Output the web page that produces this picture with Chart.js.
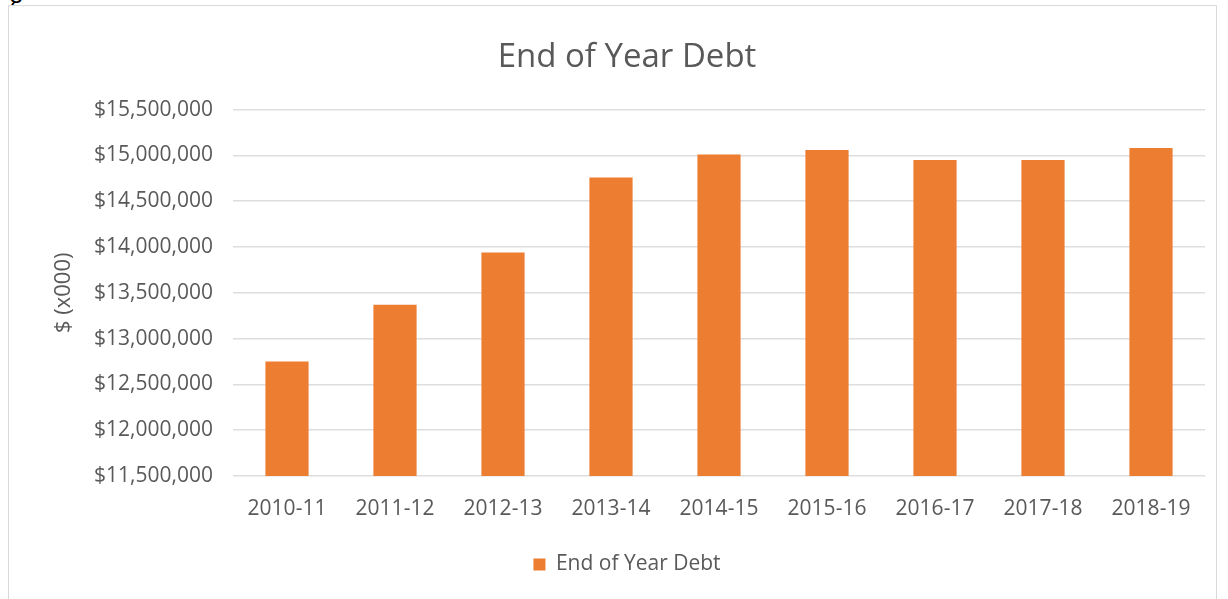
<!DOCTYPE html>
<html>
<head>
<meta charset="utf-8">
<script src="https://cdn.jsdelivr.net/npm/chart.js@4/dist/chart.umd.min.js"></script>
<style>
  html, body { margin: 0; padding: 0; background: #fff; overflow: hidden; }
  body { width: 1228px; height: 599px; position: relative; }
  #frame {
    position: absolute; left: 8px; top: 5px; width: 1209px; height: 600px;
    border: 1px solid #d9d9d9; box-sizing: border-box; background: #fff;
  }
  #cut {
    position: absolute; left: 9px; top: -22px; font: 28px "Open Sans", sans-serif; color: #000;
  }
  #wrap { position: absolute; left: 9px; top: 6px; width: 1208px; height: 593px; }
</style>
</head>
<body>
<div id="cut">g</div>
<div id="frame"></div>
<div id="wrap"><canvas id="myChart"></canvas></div>
<script>
// data
var years = ["2010-11", "2011-12", "2012-13", "2013-14", "2014-15", "2015-16", "2016-17", "2017-18", "2018-19"];
var debt = [12750000, 13370000, 13940000, 14760000, 15010000, 15060000, 14950000, 14950000, 15080000];
var yMin = 11500000;
var yMax = 15500000;
var yStep = 500000;

var textGrey = "#595959";
var orange = "#ED7D31";

function money(v) {
    return "$" + v.toLocaleString("en-US");
}

var ctx = document.getElementById("myChart").getContext('2d');
new Chart(ctx, {
    type: 'bar',
    data: {
        labels: years,
        datasets: [{
            label: "End of Year Debt",
            data: debt,
            backgroundColor: orange,
            borderWidth: 0,
            barPercentage: 0.4,
            categoryPercentage: 1.0
        }]
    },
    options: {
        responsive: true,
        maintainAspectRatio: false,
        animation: false,
        layout: { padding: { left: 40, right: 12, top: 0, bottom: 14 } },
        plugins: {
            title: {
                display: true,
                text: "End of Year Debt",
                color: textGrey,
                font: { family: "Open Sans", size: 33, weight: 'normal' },
                padding: { top: 32, bottom: 32 }
            },
            legend: {
                display: true,
                position: 'bottom',
                labels: {
                    color: textGrey,
                    font: { family: "Open Sans", size: 21 },
                    boxWidth: 12,
                    boxHeight: 12,
                    padding: 10
                }
            },
            tooltip: { enabled: false }
        },
        scales: {
            x: {
                afterFit: function (scale) { scale.height = 68; },
                grid: { display: false, drawTicks: false },
                border: { display: false },
                ticks: {
                    color: textGrey,
                    font: { family: "Open Sans", size: 21 },
                    padding: 20,
                    maxRotation: 0
                }
            },
            y: {
                min: yMin,
                max: yMax,
                afterFit: function (scale) { scale.width = 184; },
                grid: { color: "#dedede", lineWidth: 1.5, drawTicks: false },
                border: { display: false },
                ticks: {
                    stepSize: yStep,
                    color: textGrey,
                    font: { family: "Open Sans", size: 21 },
                    padding: 20,
                    callback: function (v) { return money(v); }
                },
                title: {
                    display: true,
                    text: "$ (x000)",
                    color: textGrey,
                    font: { family: "Open Sans", size: 22 },
                    padding: 2
                }
            }
        }
    }
});
</script>
</body>
</html>
